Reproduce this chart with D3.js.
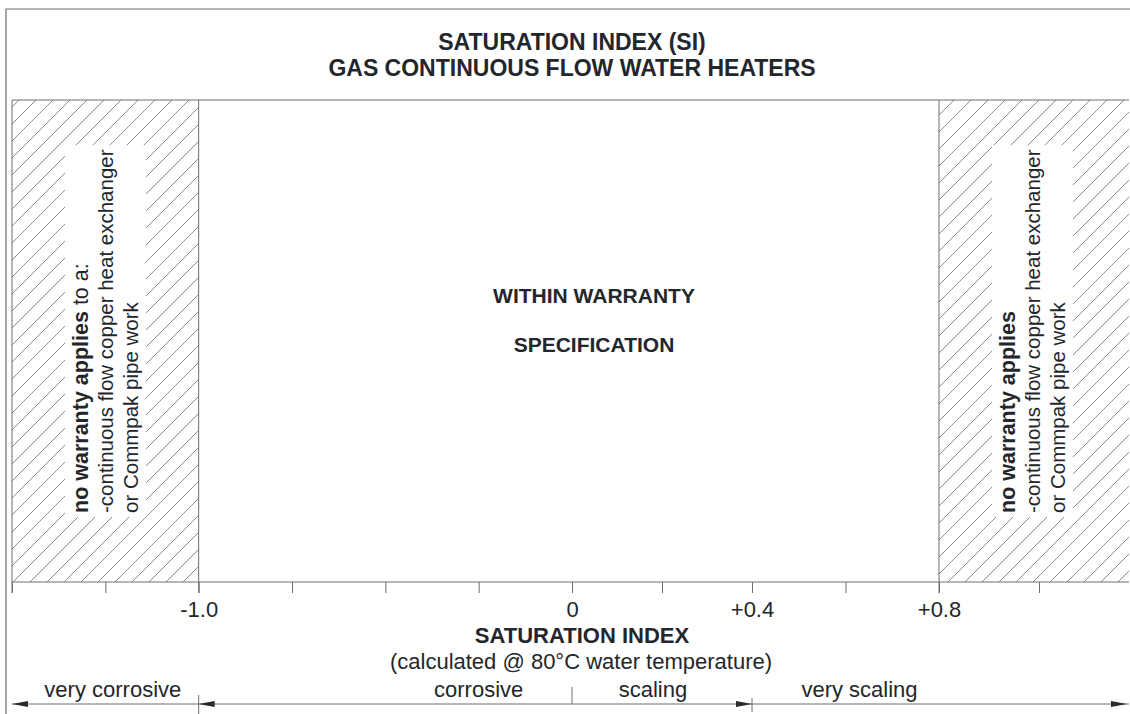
<!DOCTYPE html>
<html><head><meta charset="utf-8">
<script src="https://cdn.jsdelivr.net/npm/d3@7"></script>
<style>body{margin:0;background:#fff}svg{display:block}</style>
</head><body><svg id="c" width="1130" height="714"></svg>
<script>
// ---------- data ----------
const titleLines = ["SATURATION INDEX (SI)", "GAS CONTINUOUS FLOW WATER HEATERS"];
const tickValues = [-1.5, -1.25, -1.0, -0.75, -0.5, -0.25, 0, 0.2, 0.4, 0.6, 0.8, 1.0];
const labelValues = [-1.0, 0, 0.4, 0.8];
const labelTexts = ["-1.0", "0", "+0.4", "+0.8"];
const axisMin = -1.5, axisMax = 1.18;
const lowerLimit = -1.0, upperLimit = 0.8;
const zoneNames = ["very corrosive", "corrosive", "scaling", "very scaling"];
const zoneFrom = [-1.5, -1.0, 0, 0.4];
const zoneTo = [-1.0, 0, 0.4, 1.18];
const zoneLabelAt = [-1.23, -0.25, 0.18, 0.63];
const dividerValues = [-1.0, 0, 0.4];
const centerLines = ["WITHIN WARRANTY", "SPECIFICATION"];
const axisTitle = "SATURATION INDEX";
const axisSubtitle = "(calculated @ 80°C water temperature)";
const leftNote = [["no warranty applies", " to a:"], ["-continuous flow copper heat exchanger", ""], ["or Commpak pipe work", ""]];
const rightNote = [["no warranty applies", ""], ["-continuous flow copper heat exchanger", ""], ["or Commpak pipe work", ""]];
// schematic (non-uniform) axis knots
const scaleKnots = [-1.5, 0, 0.4, 0.8, 1.0];

// ---------- layout ----------
const W = 1130, H = 714;
const FONT = "'Liberation Sans', Arial, Helvetica, sans-serif";
const TXT = "#23262b", LINE = "#6e6e6e", HATCH = "#808080";
const frameTop = 9, frameLeft = 6, bandTop = 100, axisY = 582, tickLen = 11, arrowY = 704;

const x = d3.scaleLinear().domain(scaleKnots).range([12, 572, 752, 939, 1039]);

const svg = d3.select("#c");
const defs = svg.append("defs");
const pat = defs.append("pattern").attr("id", "hatch").attr("patternUnits", "userSpaceOnUse")
  .attr("width", 17).attr("height", 17);
pat.append("path").attr("d", "M0,17 L17,0 M-4,4 L4,-4 M13,21 L21,13")
  .attr("stroke", HATCH).attr("stroke-width", 0.9).attr("fill", "none");

// frame
svg.append("path").attr("d", `M${frameLeft},${H} V${frameTop} H${W}`)
  .attr("fill", "none").attr("stroke", LINE).attr("stroke-width", 1.2);

// hatched no-warranty bands
const bands = [[axisMin, lowerLimit], [upperLimit, axisMax]];
svg.selectAll("rect.band").data(bands).join("rect").attr("class", "band")
  .attr("x", d => x(d[0])).attr("y", bandTop)
  .attr("width", d => x(d[1]) - x(d[0])).attr("height", axisY - bandTop)
  .attr("fill", "url(#hatch)");

// band top line
svg.append("line").attr("x1", x(axisMin)).attr("x2", x(axisMax)).attr("y1", bandTop).attr("y2", bandTop)
  .attr("stroke", LINE).attr("stroke-width", 1);

// limit lines
svg.selectAll("line.limit").data([axisMin, lowerLimit, upperLimit]).join("line").attr("class", "limit")
  .attr("x1", d => x(d)).attr("x2", d => x(d)).attr("y1", bandTop).attr("y2", axisY + tickLen)
  .attr("stroke", LINE).attr("stroke-width", 1);

// axis
const axis = d3.axisBottom(x).tickValues(tickValues).tickSize(tickLen).tickSizeOuter(0)
  .tickFormat(d => { const i = labelValues.indexOf(d); return i >= 0 ? labelTexts[i] : ""; });
const ga = svg.append("g").attr("transform", `translate(0,${axisY})`).call(axis);
ga.select(".domain").remove();
ga.selectAll(".tick line").attr("stroke", LINE).attr("stroke-width", 1);
ga.selectAll(".tick text").attr("font-family", FONT).attr("font-size", 22).attr("fill", TXT)
  .attr("y", 0).attr("dy", 0).attr("transform", "translate(0,35)");
svg.append("line").attr("x1", x(axisMin)).attr("x2", x(axisMax)).attr("y1", axisY).attr("y2", axisY)
  .attr("stroke", LINE).attr("stroke-width", 1);

// title
svg.selectAll("text.title").data(titleLines).join("text").attr("class", "title")
  .attr("x", x(0)).attr("y", (d, i) => 50 + i * 26).attr("text-anchor", "middle")
  .attr("font-family", FONT).attr("font-weight", "bold").attr("font-size", 23).attr("fill", TXT)
  .text(d => d);

// center text
svg.selectAll("text.center").data(centerLines).join("text").attr("class", "center")
  .attr("x", 594).attr("y", (d, i) => 303 + i * 49).attr("text-anchor", "middle")
  .attr("font-family", FONT).attr("font-weight", "bold").attr("font-size", 21).attr("fill", TXT)
  .text(d => d);

// axis titles
svg.append("text").attr("x", 582).attr("y", 643).attr("text-anchor", "middle")
  .attr("font-family", FONT).attr("font-weight", "bold").attr("font-size", 22).attr("fill", TXT).text(axisTitle);
svg.append("text").attr("x", 581).attr("y", 669).attr("text-anchor", "middle")
  .attr("font-family", FONT).attr("font-size", 22).attr("fill", TXT).text(axisSubtitle);

// rotated notes with white masks
function note(lines, cx) {
  const g = svg.append("g").attr("transform", `translate(${cx},513) rotate(-90)`);
  const inner = g.append("g");
  lines.forEach((ln, i) => {
    const t = inner.append("text").attr("x", 0).attr("y", i * 25)
      .attr("font-family", FONT).attr("font-size", i === 0 ? 21.5 : 20.5).attr("fill", TXT);
    if (i === 0) {
      t.append("tspan").attr("font-weight", "bold").text(ln[0]);
      if (ln[1]) t.append("tspan").text(ln[1]);
    } else t.text(ln[0]);
  });
  const bb = inner.node().getBBox();
  const p = 4;
  inner.insert("rect", ":first-child").attr("x", bb.x - p).attr("y", bb.y - p)
    .attr("width", bb.width + 2 * p).attr("height", bb.height + 2 * p).attr("fill", "#fff");
}
note(leftNote, 88);
note(rightNote, 1015);

// zone arrows
const ay = arrowY;
svg.append("line").attr("x1", x(axisMin)).attr("x2", x(axisMax)).attr("y1", ay).attr("y2", ay)
  .attr("stroke", LINE).attr("stroke-width", 1);
const heads = [[zoneFrom[0], -1], [zoneFrom[1], -1], [zoneTo[2], 1], [zoneTo[3], 1]];
svg.selectAll("path.head").data(heads).join("path").attr("class", "head")
  .attr("d", d => { const tx = x(d[0]) - (d[1] > 0 && d[0] === zoneTo[3] ? 2 : 0), s = d[1]; return `M${tx},${ay} L${tx - s * 16},${ay - 3} L${tx - s * 16},${ay + 3}Z`; })
  .attr("fill", "#2a2a2a");
const divSpan = [[695, 714], [687, 704], [698, 712]];
svg.selectAll("line.div").data(dividerValues).join("line").attr("class", "div")
  .attr("x1", d => x(d)).attr("x2", d => x(d))
  .attr("y1", (d, i) => divSpan[i][0]).attr("y2", (d, i) => divSpan[i][1])
  .attr("stroke", LINE).attr("stroke-width", 1);
svg.selectAll("text.zone").data(zoneNames).join("text").attr("class", "zone")
  .attr("x", (d, i) => x(zoneLabelAt[i])).attr("y", 697).attr("text-anchor", "middle")
  .attr("font-family", FONT).attr("font-size", 22).attr("fill", TXT).text(d => d);
</script></body></html>
